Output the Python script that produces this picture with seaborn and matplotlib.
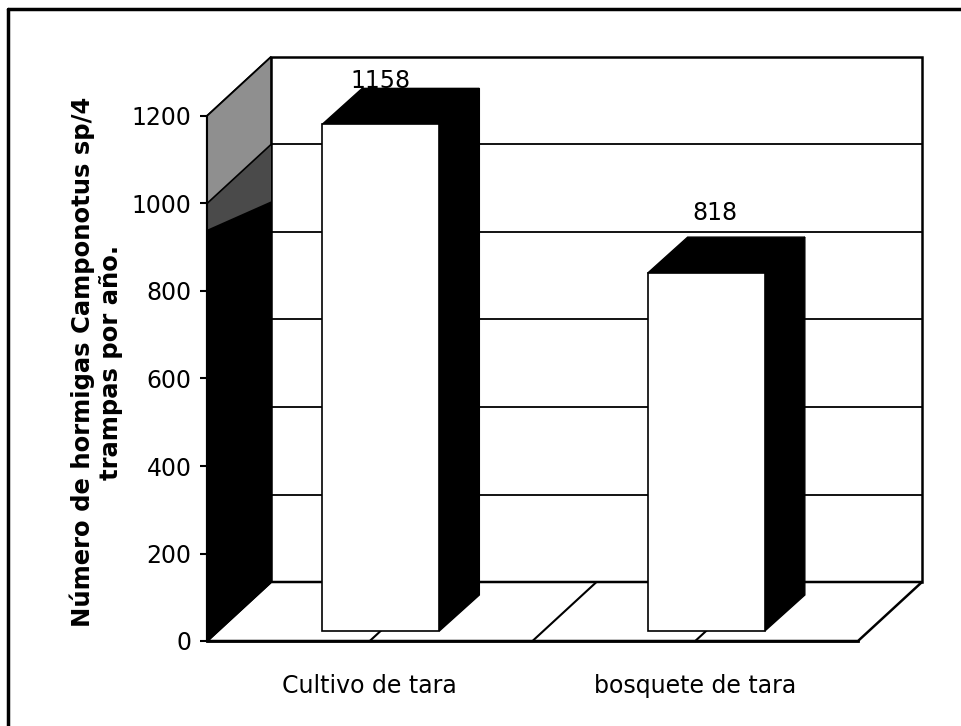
import matplotlib
matplotlib.use("Agg")
import matplotlib.pyplot as plt
import seaborn as sns
from matplotlib.patches import Polygon
from matplotlib.lines import Line2D
from matplotlib.transforms import Affine2D

# ==============================
# datos
# ==============================
categorias = ["Cultivo de tara", "bosquete de tara"]
hormigas = [1158, 818]
y_ticks = [0, 200, 400, 600, 800, 1000, 1200]
y_label = "Número de hormigas Camponotus sp/4\ntrampas por año."

sns.set_theme(style="white")
plt.rcParams["font.family"] = ["Liberation Sans Narrow", "DejaVu Sans"]
plt.rcParams["text.color"] = "black"
plt.rcParams["xtick.color"] = "black"
plt.rcParams["ytick.color"] = "black"

W, H = 962, 726
fig = plt.figure(figsize=(W / 100, H / 100), dpi=100)
# plano frontal del grafico 3D (en pixeles de la imagen)
left, right, bottom, top = 207, 858, 641, 116
ax = fig.add_axes([left / W, (H - bottom) / H, (right - left) / W, (bottom - top) / H])
x0, x1, y0, y1 = -0.5, 1.5, 0, 1200
ax.set_xlim(x0, x1)
ax.set_ylim(y0, y1)

# pixeles -> unidades de datos
ux = (x1 - x0) / (right - left)
uy = (y1 - y0) / (bottom - top)


def off(px, py):
    return px * ux, py * uy


DX, DY = off(64, 59)      # profundidad del piso
FX, FY = off(11, 10)      # cara frontal de la barra
BX, BY = off(51, 46)      # cara trasera de la barra

kw = dict(clip_on=False)

# pared del fondo
ax.add_patch(Polygon([(x0 + DX, DY), (x1 + DX, DY), (x1 + DX, y1 + DY), (x0 + DX, y1 + DY)],
                     fc="white", ec="black", lw=1.8, zorder=1, **kw))
for t in y_ticks[1:-1]:
    ax.plot([x0 + DX, x1 + DX], [t + DY, t + DY], color="black", lw=1.3, zorder=2, **kw)

# piso
ax.add_patch(Polygon([(x0, 0), (x1, 0), (x1 + DX, DY), (x0 + DX, DY)],
                     fc="white", ec="black", lw=1.8, zorder=3, **kw))
for xc in [0, 0.5, 1.0]:
    ax.plot([xc, xc + DX], [0, DY], color="black", lw=1.5, zorder=4, **kw)

# pared izquierda
ax.add_patch(Polygon([(x0, 0), (x0 + DX, DY), (x0 + DX, y1 + DY), (x0, y1)],
                     fc="black", ec="black", lw=1.5, zorder=5, **kw))
ax.add_patch(Polygon([(x0, 940), (x0 + DX, 870 + DY), (x0 + DX, 1000 + DY), (x0, 1000)],
                     fc="#4a4a4a", lw=0, zorder=5, **kw))
ax.add_patch(Polygon([(x0, 1000), (x0 + DX, 1000 + DY), (x0 + DX, y1 + DY), (x0, y1)],
                     fc="#8f8f8f", ec="black", lw=1.2, zorder=5, **kw))

# barras
sns.barplot(x=categorias, y=hormigas, color="white", edgecolor="black", linewidth=1.2,
            width=0.36, saturation=1, ax=ax, zorder=7)
shift = Affine2D().translate(FX, FY) + ax.transData
for p in ax.patches:
    if p.get_zorder() != 7:
        continue
    p.set_transform(shift)
    p.set_clip_on(False)
    bx, bw, bh = p.get_x(), p.get_width(), p.get_height()
    side = [(bx + bw + FX, FY), (bx + bw + BX, BY), (bx + bw + BX, bh + BY), (bx + bw + FX, bh + FY)]
    tapa = [(bx + FX, bh + FY), (bx + BX, bh + BY), (bx + bw + BX, bh + BY), (bx + bw + FX, bh + FY)]
    ax.add_patch(Polygon(side, fc="black", ec="black", lw=1, zorder=6, **kw))
    ax.add_patch(Polygon(tapa, fc="black", ec="black", lw=1, zorder=6, **kw))

# etiquetas de valor
lab_off = [(0, 31), (6, 43)]
for i, v in enumerate(hormigas):
    ax.annotate(str(v), (i + FX, v + FY), xytext=lab_off[i], textcoords="offset points",
                ha="center", va="center", fontsize=17, color="black", zorder=8,
                annotation_clip=False)

# ejes
ax.set_yticks(y_ticks)
ax.set_yticklabels([str(t) for t in y_ticks])
ax.set_xticks(range(len(categorias)))
ax.set_xticklabels(categorias)
ax.tick_params(axis="y", length=5, width=1.5, color="black", left=True, labelsize=17, pad=6)
ax.tick_params(axis="x", length=0, labelsize=17, pad=24)
for s in ["top", "right"]:
    ax.spines[s].set_visible(False)
ax.spines["left"].set_color("black")
ax.spines["left"].set_linewidth(1.5)
ax.spines["bottom"].set_color("black")
ax.spines["bottom"].set_linewidth(2)
ax.spines["left"].set_zorder(9)
ax.set_xlabel("")
ax.set_ylabel("")
ax.grid(False)
ax.patch.set_alpha(0)

fig.text(96 / W, 1 - 362 / H, y_label, rotation=90, ha="center", va="center",
         fontsize=17.5, fontweight="bold", family=["DejaVu Sans"],
         linespacing=1.2)

# marco
fig.add_artist(Line2D([8 / W, 1], [1 - 9 / H, 1 - 9 / H], color="black", lw=2.5))
fig.add_artist(Line2D([8 / W, 8 / W], [0, 1 - 9 / H], color="black", lw=2.5))

fig.savefig("out.png", dpi=100)
